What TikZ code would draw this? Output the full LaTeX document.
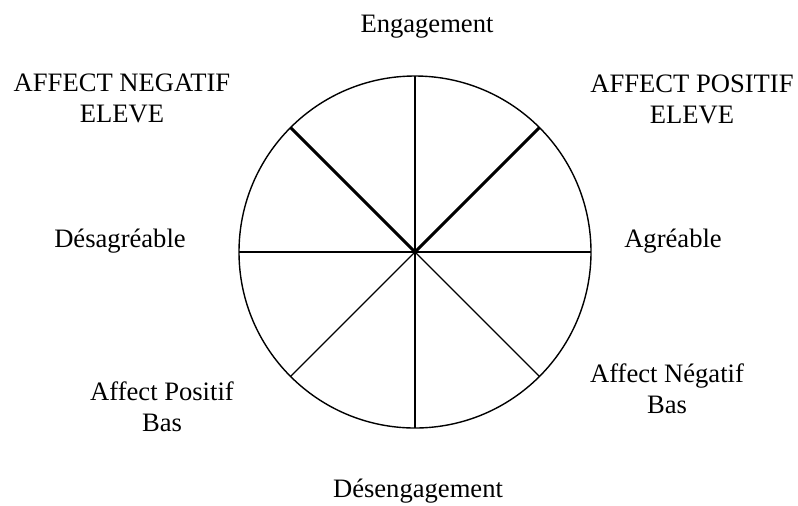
\documentclass[tikz,border=0pt]{standalone}
\usepackage{fontspec}
\setmainfont{Liberation Serif}
\usepackage{tikz}
\usetikzlibrary{positioning}

\begin{document}
\begin{tikzpicture}[x=0.5pt, y=-0.5pt, every node/.style={font=\fontsize{13.3}{15.5}\selectfont}]
\tikzset{lbl/.style={align=center, inner sep=0pt}}
\tikzset{wheelbox/.style={draw, circle, line width=0.7pt, minimum size=176pt, inner sep=0pt, outer sep=0pt}}
\tikzset{spoke/.style={line width=0.6pt}}
\tikzset{boldspoke/.style={line width=1.5pt}}
\useasboundingbox (0,0) rectangle (798,505);
\node[wheelbox] (wheel) at (415,252) {};
% spokes
\draw[spoke] (wheel.north) -- (wheel.south);
\draw[spoke] (wheel.west) -- (wheel.east);
\draw[spoke] (wheel.center) -- (wheel.225);
\draw[spoke] (wheel.center) -- (wheel.315);
\draw[boldspoke] (wheel.center) -- (wheel.45);
\draw[boldspoke] (wheel.center) -- (wheel.135);
% labels
\node[lbl] (eng) at (427,27) {Engagement};
\node[lbl] (deseng) at (418,491) {Désengagement};
\node[lbl] (agr) at (673,241) {Agréable};
\node[lbl] (desagr) at (120,241) {Désagréable};
\node[lbl] (ane) at (122,98) {AFFECT NEGATIF\\ELEVE};
\node[lbl] (ape) at (692,99) {AFFECT POSITIF\\ELEVE};
\node[lbl] (apb) at (162,407) {Affect Positif\\Bas};
\node[lbl] (anb) at (667,389) {Affect Négatif\\Bas};
\end{tikzpicture}
\end{document}
